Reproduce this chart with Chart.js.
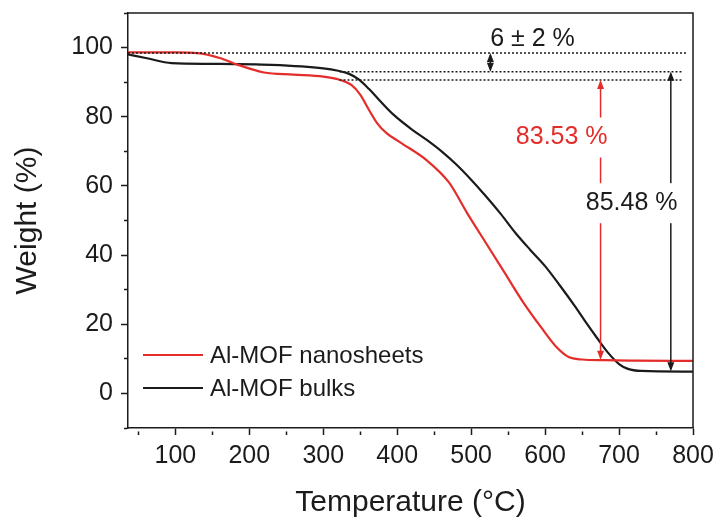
<!DOCTYPE html>
<html>
<head>
<meta charset="utf-8">
<script src="https://cdn.jsdelivr.net/npm/chart.js@4.4.0/dist/chart.umd.min.js"></script>
<style>
  html, body { margin: 0; padding: 0; background: #fff; }
  #wrap { width: 719px; height: 521px; }
</style>
</head>
<body>
<div id="wrap"><canvas id="tga"></canvas></div>
<script>
// TGA curves (temperature in °C, weight in %)
const sheetTemps   = [36, 60, 100, 130, 160, 185, 220, 260, 300, 322, 338, 350, 361, 373, 386, 404, 440, 470, 495, 520, 545, 570, 595, 615, 632, 650, 680, 720, 800];
const sheetWeights = [98.6, 98.6, 98.6, 98.4, 97.0, 95.0, 92.8, 92.2, 91.6, 90.7, 89.2, 86.4, 82.3, 78.1, 75.2, 72.6, 67.4, 61.0, 52.0, 43.5, 35.0, 26.5, 19.0, 13.5, 10.5, 9.8, 9.6, 9.5, 9.4];

const bulkTemps   = [36, 60, 95, 150, 230, 300, 320, 335, 348, 362, 375, 395, 420, 440, 460, 480, 500, 520, 540, 560, 580, 600, 620, 640, 655, 670, 685, 700, 712, 730, 800];
const bulkWeights = [98.0, 97.0, 95.5, 95.3, 95.0, 94.0, 93.3, 92.4, 90.8, 88.0, 85.0, 80.6, 76.3, 73.3, 70.0, 66.2, 61.8, 57.0, 51.9, 46.4, 41.5, 36.8, 31.2, 25.3, 20.6, 16.1, 11.8, 8.5, 7.1, 6.5, 6.3];

const seriesNames = ['Al-MOF nanosheets', 'Al-MOF bulks'];

// reference levels (dotted lines) and weight-loss annotations
const startLevel = 98.4;
const plateauLevels = [93.0, 90.6];   // bulks, nanosheets
const residueLevels = [6.4, 9.7];     // bulks, nanosheets
const lossLabels = ['6 ± 2 %', '83.53 %', '85.48 %'];

const RED = '#e42d2a';
const BLACK = '#1b1b1b';
const FONT = '"Liberation Sans", Arial, sans-serif';

function toPoints(xs, ys) {
    return xs.map((x, i) => ({ x: x, y: ys[i] }));
}

function arrowHead(ctx, x, y, dir, color) {
    // dir = -1 points up, 1 points down
    ctx.fillStyle = color;
    ctx.beginPath();
    ctx.moveTo(x, y);
    ctx.lineTo(x - 3.5, y - dir * 9);
    ctx.lineTo(x + 3.5, y - dir * 9);
    ctx.closePath();
    ctx.fill();
}

function vArrow(ctx, x, yTop, yBot, color) {
    ctx.strokeStyle = color;
    ctx.lineWidth = 1.5;
    ctx.setLineDash([]);
    ctx.beginPath();
    ctx.moveTo(x, yTop + 2);
    ctx.lineTo(x, yBot - 2);
    ctx.stroke();
    arrowHead(ctx, x, yTop, -1, color);
    arrowHead(ctx, x, yBot, 1, color);
}

function boxedText(ctx, text, x, y, color) {
    ctx.font = '25px ' + FONT;
    const w = ctx.measureText(text).width;
    ctx.fillStyle = '#fff';
    ctx.fillRect(x - w / 2 - 4, y - 20, w + 8, 40);
    ctx.fillStyle = color;
    ctx.textAlign = 'center';
    ctx.textBaseline = 'middle';
    ctx.fillText(text, x, y);
}

const annotations = {
    id: 'annotations',
    afterDatasetsDraw(chart) {
        const ctx = chart.ctx;
        const xs = chart.scales.x, ys = chart.scales.y;
        const area = chart.chartArea;
        const px = v => xs.getPixelForValue(v);
        const py = v => ys.getPixelForValue(v);
        ctx.save();

        // dotted reference lines
        ctx.strokeStyle = BLACK;
        ctx.lineWidth = 1.5;
        ctx.setLineDash([2, 2]);
        ctx.beginPath();
        ctx.moveTo(area.left, py(startLevel));
        ctx.lineTo(px(793), py(startLevel));
        plateauLevels.forEach(l => {
            ctx.moveTo(px(322), py(l));
            ctx.lineTo(px(785), py(l));
        });
        ctx.stroke();
        ctx.setLineDash([]);

        // small double arrow for 6 ± 2 %
        vArrow(ctx, px(526), py(startLevel), py(plateauLevels[0]), BLACK);
        ctx.font = '25px ' + FONT;
        ctx.fillStyle = BLACK;
        ctx.textAlign = 'center';
        ctx.textBaseline = 'middle';
        ctx.fillText(lossLabels[0], px(583), py(102.4));

        // weight-loss arrows
        vArrow(ctx, px(675), py(plateauLevels[1]), py(residueLevels[1]), RED);
        vArrow(ctx, px(770), py(plateauLevels[0]), py(residueLevels[0]), BLACK);
        boxedText(ctx, lossLabels[1], px(622.5), py(74), RED);
        boxedText(ctx, lossLabels[2], px(717), py(55), BLACK);

        // frame on top and right
        ctx.strokeStyle = BLACK;
        ctx.lineWidth = 1.5;
        ctx.beginPath();
        ctx.moveTo(area.left, area.top);
        ctx.lineTo(area.right, area.top);
        ctx.lineTo(area.right, area.bottom);
        ctx.stroke();

        // legend
        const colors = [RED, BLACK];
        ctx.font = '24px ' + FONT;
        ctx.textAlign = 'left';
        ctx.textBaseline = 'middle';
        seriesNames.forEach((name, i) => {
            const y = area.bottom - 73 + i * 33;
            ctx.strokeStyle = colors[i];
            ctx.lineWidth = 2;
            ctx.beginPath();
            ctx.moveTo(area.left + 15, y);
            ctx.lineTo(area.left + 75, y);
            ctx.stroke();
            ctx.fillStyle = BLACK;
            ctx.fillText(name, area.left + 82, y + 1);
        });
        ctx.restore();
    }
};

new Chart(document.getElementById('tga'), {
    type: 'line',
    data: {
        datasets: [
            {
                label: seriesNames[0],
                data: toPoints(sheetTemps, sheetWeights),
                borderColor: RED,
                borderWidth: 2.2,
                pointRadius: 0,
                cubicInterpolationMode: 'monotone'
            },
            {
                label: seriesNames[1],
                data: toPoints(bulkTemps, bulkWeights),
                borderColor: BLACK,
                borderWidth: 2.2,
                pointRadius: 0,
                cubicInterpolationMode: 'monotone'
            }
        ]
    },
    options: {
        responsive: true,
        maintainAspectRatio: false,
        animation: false,
        layout: { padding: { left: 0, right: 26, top: 13, bottom: 0 } },
        plugins: {
            legend: { display: false },
            tooltip: { enabled: false }
        },
        scales: {
            x: {
                type: 'linear',
                min: 36,
                max: 800,
                afterFit: s => { s.height = 93; s.paddingLeft = 0; s.paddingRight = 0; },
                border: { display: true, color: BLACK, width: 1.5 },
                grid: {
                    drawOnChartArea: false,
                    tickLength: 7,
                    tickColor: BLACK,
                    tickWidth: 1.5,
                    tickBorderDash: c => (c.tick && c.tick.value % 100 === 0) ? [] : [0, 3, 4, 100]
                },
                ticks: {
                    stepSize: 50,
                    includeBounds: false,
                    autoSkip: false,
                    maxRotation: 0,
                    padding: 6,
                    color: BLACK,
                    font: { family: FONT, size: 25 },
                    callback: v => (v % 100 === 0 ? v : '')
                },
                title: {
                    display: true,
                    text: 'Temperature (°C)',
                    color: BLACK,
                    font: { family: FONT, size: 30 },
                    padding: { top: 0, bottom: 0 }
                }
            },
            y: {
                min: -10,
                max: 110,
                afterFit: s => { s.width = 128; s.paddingTop = 0; s.paddingBottom = 0; },
                border: { display: true, color: BLACK, width: 1.5 },
                grid: {
                    drawOnChartArea: false,
                    tickLength: 7,
                    tickColor: BLACK,
                    tickWidth: 1.5,
                    tickBorderDash: c => (c.tick && c.tick.value % 20 === 0) ? [] : [0, 3, 4, 100]
                },
                ticks: {
                    stepSize: 10,
                    includeBounds: false,
                    autoSkip: false,
                    padding: 8,
                    color: BLACK,
                    font: { family: FONT, size: 25 },
                    callback: v => (v % 20 === 0 && v >= 0 && v <= 100 ? v : '')
                },
                title: {
                    display: true,
                    text: 'Weight (%)',
                    color: BLACK,
                    font: { family: FONT, size: 30 },
                    padding: { top: 10, bottom: 0 }
                }
            }
        }
    },
    plugins: [annotations]
});
</script>
</body>
</html>
